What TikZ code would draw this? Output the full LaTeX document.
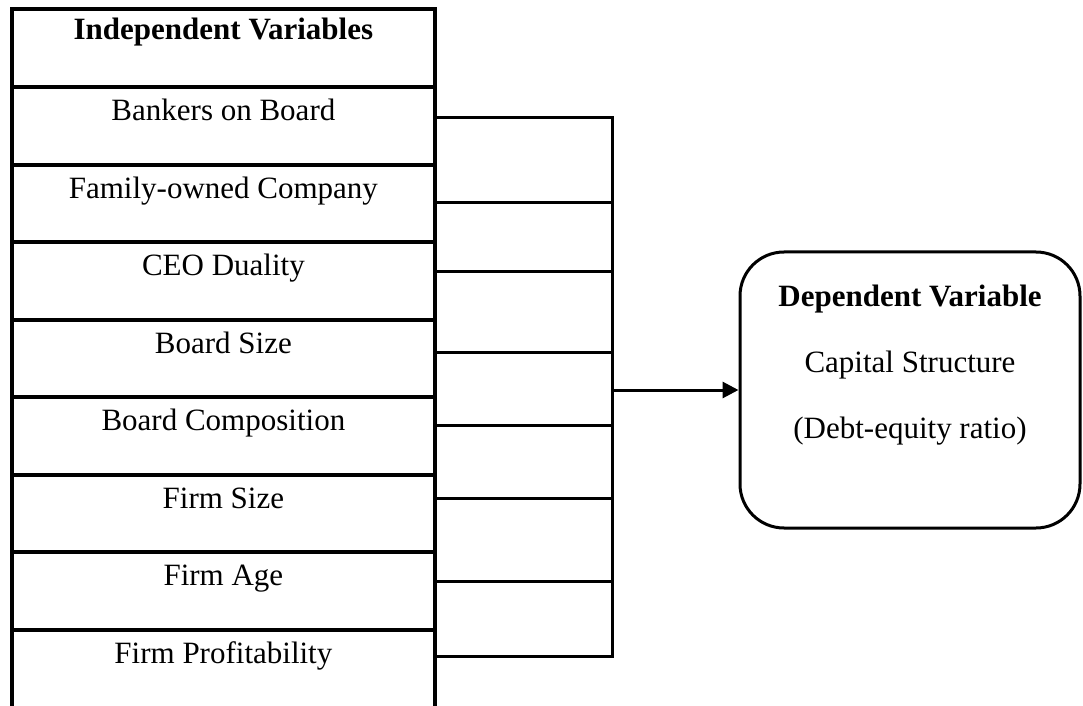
\documentclass[tikz,border=0pt]{standalone}
\usepackage{fontspec}
\setmainfont{Liberation Serif}
\usetikzlibrary{arrows.meta}
\tikzstyle{var} = [rectangle, 
minimum width=211pt, 
minimum height=38.75pt, 
inner sep=0pt, 
text height=17pt, 
text depth=21.75pt, 
font=\fontsize{15.5}{18}\selectfont]
\tikzstyle{dep} = [rectangle, rounded corners=22pt, 
draw=black, 
line width=1.5pt, 
minimum width=170pt, 
inner sep=0pt, 
align=center, 
text height=93pt, 
text depth=45pt, 
font=\fontsize{15.5}{33}\selectfont]
\tikzstyle{frame} = [line width=2pt]
\tikzstyle{link} = [line width=1.5pt]
\tikzstyle{arrow} = [line width=1.5pt,-{Triangle[length=8pt,width=8pt]}]

\begin{document}
\begin{tikzpicture}[node distance=38.75pt]
  \useasboundingbox (0,0) rectangle (541.5pt,-353pt);
  \node (hdr) [var, anchor=north west, text height=15pt, text depth=23.75pt] at (6pt,-4.5pt) {\textbf{Independent Variables}};
  \node (bank) [var, below of=hdr] {Bankers on Board};
  \node (fam) [var, below of=bank] {Family-owned Company};
  \node (ceo) [var, below of=fam] {CEO Duality};
  \node (bsize) [var, below of=ceo] {Board Size};
  \node (bcomp) [var, below of=bsize] {Board Composition};
  \node (fsize) [var, below of=bcomp] {Firm Size};
  \node (fage) [var, below of=fsize] {Firm Age};
  \node (prof) [var, below of=fage] {Firm Profitability};
  \node (dep) [dep] at (455pt,-195pt) {
    \textbf{Dependent Variable}\\
    Capital Structure\\
    (Debt-equity ratio)
    };

  % column of variables, open at the bottom
  \draw [frame] ([yshift=-5pt]prof.south west) -- (hdr.north west) -- (hdr.north east) -- ([yshift=-5pt]prof.south east);
  \draw [frame] (hdr.south west) -- (hdr.south east);
  \draw [frame] (bank.south west) -- (bank.south east);
  \draw [frame] (fam.south west) -- (fam.south east);
  \draw [frame] (ceo.south west) -- (ceo.south east);
  \draw [frame] (bsize.south west) -- (bsize.south east);
  \draw [frame] (bcomp.south west) -- (bcomp.south east);
  \draw [frame] (fsize.south west) -- (fsize.south east);
  \draw [frame] (fage.south west) -- (fage.south east);

  % bracket
  \draw [link] ([yshift=-15.5pt]bank.north east) -- ++(89pt,0) coordinate (b1);
  \draw [link] ([yshift=-19.5pt]fam.north east) -- ++(89pt,0) coordinate (b2);
  \draw [link] ([yshift=-15pt]ceo.north east) -- ++(89pt,0) coordinate (b3);
  \draw [link] ([yshift=-16.5pt]bsize.north east) -- ++(89pt,0) coordinate (b4);
  \draw [link] ([yshift=-14.5pt]bcomp.north east) -- ++(89pt,0) coordinate (b5);
  \draw [link] ([yshift=-12pt]fsize.north east) -- ++(89pt,0) coordinate (b6);
  \draw [link] ([yshift=-15pt]fage.north east) -- ++(89pt,0) coordinate (b7);
  \draw [link] ([yshift=-13.5pt]prof.north east) -- ++(89pt,0) coordinate (b8);
  \draw [link, line cap=rect] (b1) -- (b8);
  \draw [arrow] (b1 |- dep.west) -- (dep.west);
\end{tikzpicture}
\end{document}
